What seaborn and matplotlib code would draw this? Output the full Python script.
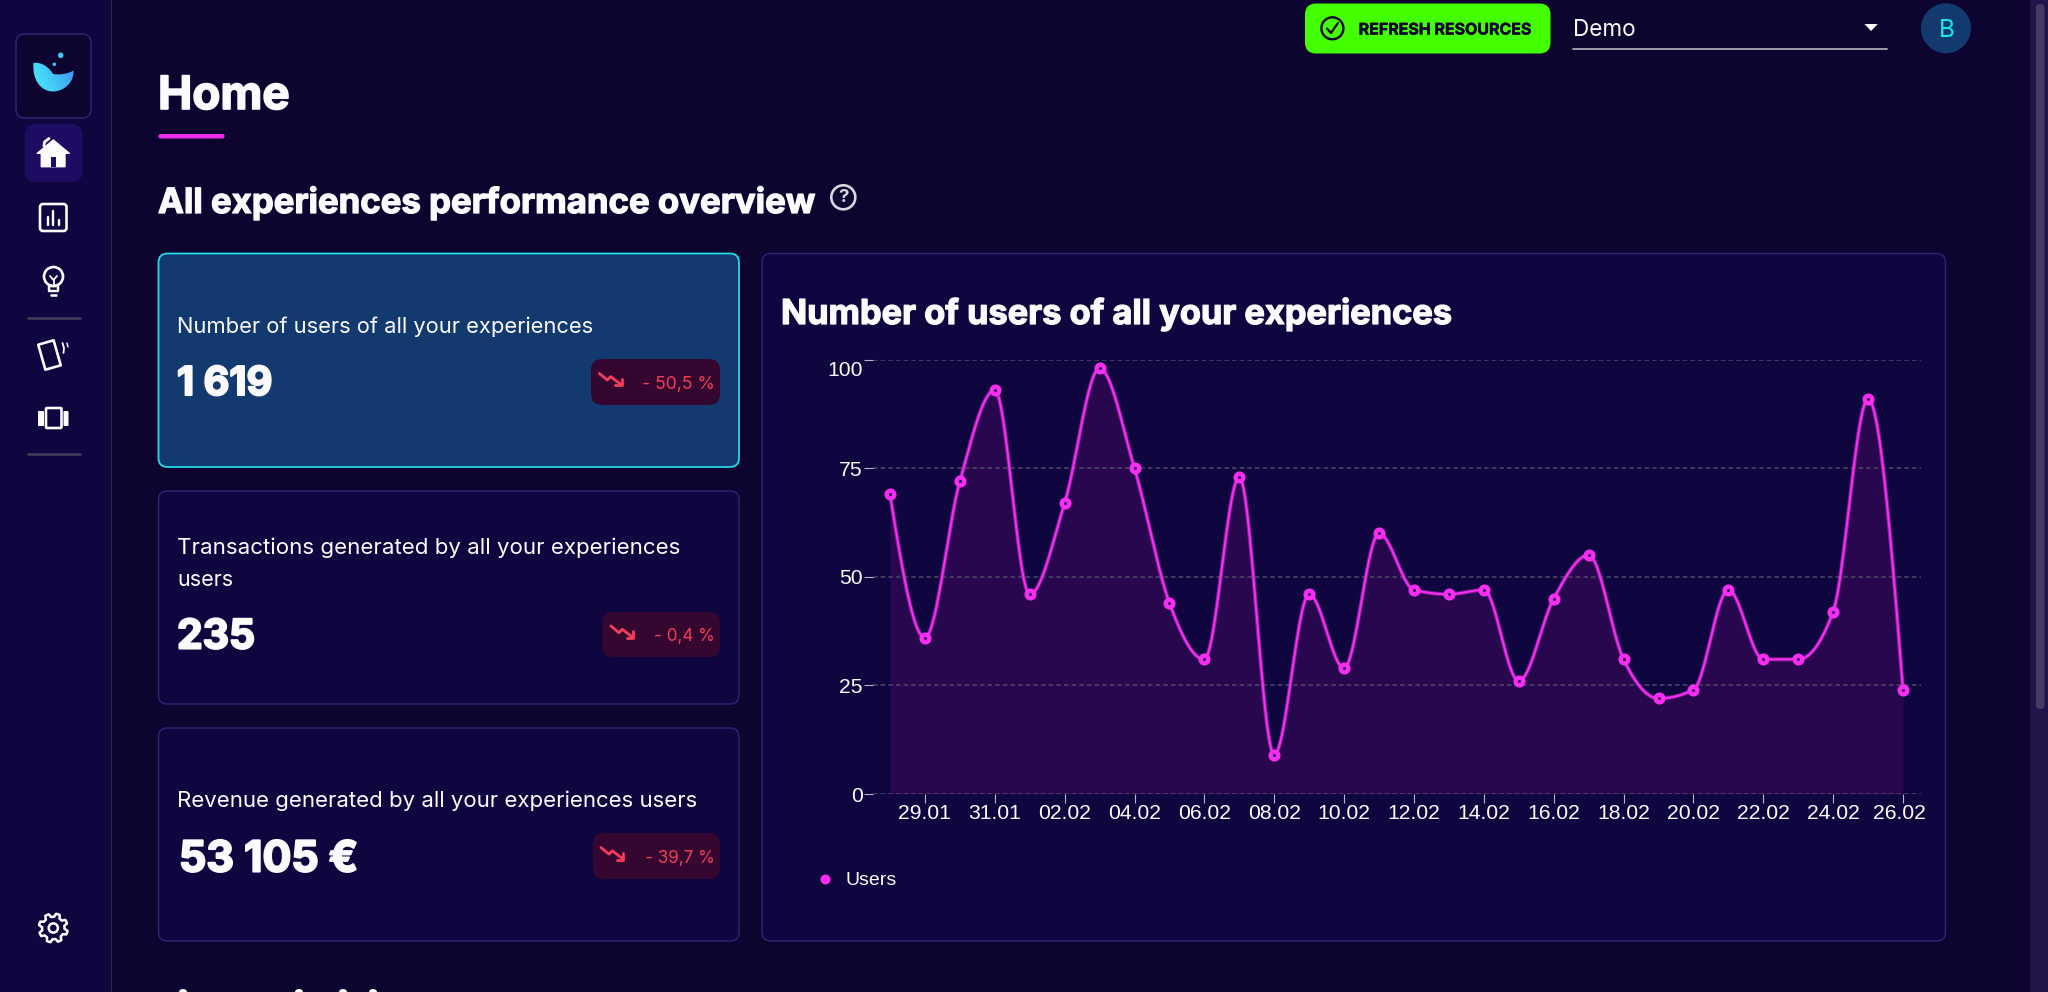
import numpy as np
import pandas as pd
import matplotlib
matplotlib.use('Agg')
import matplotlib.pyplot as plt
import matplotlib.patheffects as pe
import seaborn as sns
from matplotlib.colors import LinearSegmentedColormap
from matplotlib.lines import Line2D
from matplotlib.patches import Circle, Ellipse, FancyBboxPatch, PathPatch, Polygon
from matplotlib.path import Path
from matplotlib.transforms import ScaledTranslation

# chart data
days = ['28.01', '29.01', '30.01', '31.01', '01.02', '02.02', '03.02', '04.02', '05.02', '06.02',
        '07.02', '08.02', '09.02', '10.02', '11.02', '12.02', '13.02', '14.02', '15.02', '16.02',
        '17.02', '18.02', '19.02', '20.02', '21.02', '22.02', '23.02', '24.02', '25.02', '26.02']
users = [69, 36, 72, 93, 46, 67, 98, 75, 44, 31,
         73, 9, 46, 29, 60, 47, 46, 47, 26, 45,
         55, 31, 22, 24, 47, 31, 31, 42, 91, 24]
y_ticks = [0, 25, 50, 75, 100]

# the KPI cards
card_titles = ['Number of users of all your experiences',
               'Transactions generated by all your experiences',
               'Revenue generated by all your experiences users']
card_values = ['1 619', '235', '53 105 €']
card_trends = ['- 50,5 %', '- 0,4 %', '- 39,7 %']

PAGE = '#0d042f'
PANEL = '#10063f'
BORDER = '#30226e'
PINK = '#fb2df2'
RED = '#f23d5c'
BLUE_CARD = '#133a6f'
WHITE = '#fbfafd'
UI_FONT = 'Inter'


def monotone_curve(x, y, steps=24):
    # same smoothing as a monotone-x curve in the browser charts
    x = np.asarray(x, dtype=float)
    y = np.asarray(y, dtype=float)
    h = np.diff(x)
    s = np.diff(y) / h
    t = np.zeros(len(x))
    for i in range(1, len(x) - 1):
        p = (s[i - 1] * h[i] + s[i] * h[i - 1]) / (h[i - 1] + h[i])
        t[i] = (np.sign(s[i - 1]) + np.sign(s[i])) * min(abs(s[i - 1]), abs(s[i]), 0.5 * abs(p))
    t[0] = (3 * s[0] - t[1]) / 2
    t[-1] = (3 * s[-1] - t[-2]) / 2
    xs, ys = [], []
    u = np.linspace(0, 1, steps, endpoint=False)
    for i in range(len(h)):
        a = 2 * u**3 - 3 * u**2 + 1
        b = u**3 - 2 * u**2 + u
        c = -2 * u**3 + 3 * u**2
        d = u**3 - u**2
        xs.append(x[i] + u * h[i])
        ys.append(a * y[i] + b * h[i] * t[i] + c * y[i + 1] + d * h[i] * t[i + 1])
    xs.append([x[-1]])
    ys.append([y[-1]])
    return np.concatenate(xs), np.concatenate(ys)


sns.set_theme(style='dark')
plt.rcParams['font.family'] = [UI_FONT, 'DejaVu Sans']

fig = plt.figure(figsize=(20.48, 9.92), dpi=100, facecolor=PAGE)
renderer = fig.canvas.get_renderer()

# whole page axes in pixels, for the dashboard around the chart
bg = fig.add_axes([0, 0, 1, 1])
bg.set_axis_off()


def box(x0, y0, x1, y1, r, fc, ec='none', lw=1.5, z=1):
    p = FancyBboxPatch((x0 + r, y0 + r), x1 - x0 - 2 * r, y1 - y0 - 2 * r,
                       boxstyle=f'round,pad={r},rounding_size={r}',
                       fc=fc, ec=ec, lw=lw * 0.72, zorder=z)
    bg.add_patch(p)
    return p


def label(x0, x1, y, s, weight='normal', color=WHITE, heavy=0):
    # size is picked so the text spans the same width as in the picture
    t = bg.text(x0, y, s, fontsize=20, fontweight=weight, color=color, ha='left',
                va='center_baseline', zorder=6)
    w = t.get_window_extent(renderer).width
    t.set_fontsize(20 * (x1 - x0) / w)
    if heavy:
        # Poppins is not installed and the bold here is lighter, so thicken it
        t.set_path_effects([pe.withStroke(linewidth=heavy, foreground=color)])
    return t


def stroke(pts, color=WHITE, lw=2.5, z=5):
    xs, ys = zip(*pts)
    bg.plot(xs, ys, color=color, lw=lw * 0.72, solid_capstyle='round', solid_joinstyle='round', zorder=z)


# sidebar
bg.fill_between([0, 110.5], 0, 992, color=PANEL, lw=0, zorder=0.5)
bg.plot([110.5, 110.5], [0, 992], color='#2e2c45', lw=0.8, zorder=0.6)
box(16, 34, 91, 118, 9, PAGE, BORDER)

# logo bowl with its gradient
bowl = Path([(33.5, 63), (41, 61.5), (49, 67), (53, 74), (60, 75), (68, 74), (73.5, 70.5),
             (74.5, 82), (64, 91.5), (53, 91.5), (41, 91.5), (32, 80), (33.5, 63), (33.5, 63)],
            [Path.MOVETO] + [Path.CURVE4] * 12 + [Path.CLOSEPOLY])
bowl_patch = PathPatch(bowl, fc='none', ec='none', zorder=3)
bg.add_patch(bowl_patch)
gx, gy = np.meshgrid(np.linspace(0, 1, 60), np.linspace(0, 1, 60))
grad = LinearSegmentedColormap.from_list('logo', ['#45f0f5', '#44c4f6', '#3a8df4'])
img = bg.imshow(gx * 0.8 + (1 - gy) * 0.25, cmap=grad, extent=(32, 75, 92, 61), aspect='auto', zorder=3)
img.set_clip_path(bowl_patch)
bg.add_patch(Circle((60.7, 55.3), 2.8, fc='#41c3f2', ec='none', zorder=3))
bg.add_patch(Circle((54.3, 64.3), 1.8, fc='#41c3f2', ec='none', zorder=3))

# home icon
box(24.7, 124, 82.4, 182, 11, '#1e0c63')
bg.add_patch(Polygon([(53.3, 140), (69.3, 153.3), (65, 153.3), (65, 166.7), (41.3, 166.7),
                      (41.3, 153.3), (37.3, 153.3)], fc=WHITE, ec=WHITE, lw=1, joinstyle='round', zorder=4))
bg.add_patch(Polygon([(50.7, 157.3), (56, 157.3), (56, 166.7), (50.7, 166.7)], fc='#1e0c63', ec='none', zorder=5))
stroke([(44, 146), (44.5, 142), (49, 138.5)], lw=2.8)

# stats icon
box(40, 204, 66.5, 231, 3, 'none', WHITE, 2.6, z=4)
stroke([(47.5, 217), (47.5, 225)], lw=2.4)
stroke([(53.2, 211), (53.2, 225)], lw=2.4)
stroke([(59, 220), (59, 225)], lw=2.4)

# bulb icon
bg.add_patch(Circle((53.5, 276.5), 9.5, fc='none', ec=WHITE, lw=1.9, zorder=4))
stroke([(49, 286), (49, 291), (58, 291), (58, 286), (49, 286)], lw=2.4)
stroke([(51, 295), (56, 295)], lw=2.6)
stroke([(50, 276), (53.5, 280), (57, 276)], lw=1.8)
stroke([(53.5, 280), (53.5, 286)], lw=1.8)

# separators
for sep_y in [318, 454]:
    stroke([(27.5, sep_y), (79.5, sep_y)], color='#403b5e', lw=2.6, z=2)

# cards icon, a tilted rectangle
tilt = np.radians(-16)
corners = [(-8, -13), (8, -13), (8, 13), (-8, 13)]
tilted = [(49.5 + a * np.cos(tilt) - b * np.sin(tilt), 355 + a * np.sin(tilt) + b * np.cos(tilt)) for a, b in corners]
bg.add_patch(Polygon(tilted, fc='none', ec=WHITE, lw=1.9, joinstyle='round', zorder=4))
stroke([(62.5, 343), (64, 348), (63.5, 353)], lw=1.8)
stroke([(67, 343), (68, 347)], lw=1.4)

# carousel icon
box(46, 408, 61.5, 428, 1, 'none', WHITE, 2.6, z=4)
box(38, 411, 44, 426, 0.8, WHITE, z=4)
box(63.5, 411, 68.5, 426, 0.8, WHITE, z=4)

# gear icon
ang = np.linspace(0, 2 * np.pi, 48, endpoint=False) + np.pi / 16
rad = np.array(([14.5, 14.5, 14.5, 11.2, 11.2, 11.2]) * 8)
gear = list(zip(53.3 + rad * np.cos(ang), 928 + rad * np.sin(ang)))
bg.add_patch(Polygon(gear, fc='none', ec=WHITE, lw=1.8, joinstyle='round', zorder=4))
bg.add_patch(Circle((53.3, 928), 4.6, fc='none', ec=WHITE, lw=1.8, zorder=4))

# page headings
label(158, 290, 92, 'Home', weight='bold', heavy=1.2)
box(158.5, 134, 224.5, 138.5, 2, '#ee2de8')
label(158, 816, 200, 'All experiences performance overview', weight='bold', heavy=0.9)
bg.add_patch(Circle((843.3, 197.3), 12, fc='none', ec='#d8d6de', lw=1.9, zorder=4))
bg.text(843.3, 197.8, '?', fontsize=13.5, fontweight='bold', color='#d8d6de', ha='center', va='center', zorder=5)

# KPI cards
box(158.5, 253.5, 739, 467, 9, BLUE_CARD, '#24dbe6', 1.8)
box(158.5, 491, 739, 704, 9, PANEL, BORDER)
box(158.5, 728, 739, 941, 9, PANEL, BORDER)

label(177, 593, 324.5, card_titles[0])
label(177, 678.6, 546.2, card_titles[1])
label(177, 233, 578, 'users')
label(177, 696, 799, card_titles[2])

label(177, 272.4, 380.5, card_values[0], weight='bold', heavy=1.5)
label(177, 255, 633.5, card_values[1], weight='bold', heavy=1.5)
label(179, 358, 855.5, card_values[2], weight='bold', heavy=1.5)

badges = [(591, 359, 405, 599.3, 373.3, 642), (602.5, 612, 657, 611, 626, 654), (593, 833, 879, 601, 847.5, 645)]
for (bx, by0, by1, ix, iy, tx), trend in zip(badges, card_trends):
    box(bx, by0, 720, by1, 11, '#35062f')
    stroke([(ix, iy), (ix + 8, iy + 6.7), (ix + 11.3, iy + 3.3), (ix + 22.3, iy + 11.7)], color=RED, lw=2.8)
    stroke([(ix + 22.3, iy + 5.3), (ix + 22.3, iy + 12), (ix + 15.7, iy + 12)], color=RED, lw=2.8)
    label(tx, 715, (by0 + by1) / 2 + 0.5, trend, color=RED)

# chart card
box(762, 253.5, 1945.5, 941, 9, PANEL, BORDER)
label(781, 1453.6, 311, 'Number of users of all your experiences', weight='bold', heavy=0.9)

# top bar
box(1305, 3.5, 1550.5, 53.5, 11, '#44ff00')
bg.add_patch(Circle((1332.4, 28.3), 11, fc='none', ec=PAGE, lw=1.7, zorder=4))
stroke([(1327, 28.5), (1331, 33), (1338, 23)], color=PAGE, lw=2.2)
label(1358.7, 1531.4, 28.5, 'REFRESH RESOURCES', weight='bold', color=PAGE, heavy=0.3)
label(1573.4, 1636, 27.7, 'Demo')
bg.add_patch(Polygon([(1864.4, 24), (1877.8, 24), (1871.1, 31)], fc=WHITE, ec='none', zorder=4))
stroke([(1573.4, 49), (1887, 49)], color='#aaa6b5', lw=1.8, z=2)
bg.add_patch(Circle((1946, 28.3), 25, fc=BLUE_CARD, ec='none', zorder=2))
label(1938.5, 1954.5, 28, 'B', color='#1ee6f0')

# scrollbar
bg.fill_between([2030, 2048], 0, 992, color='#211448', lw=0, zorder=0.5)
box(2036, 4, 2044.5, 709, 4, '#423a63')

# tops of the next heading, cut off by the bottom of the screen
for mark_x in [183, 299, 343, 373]:
    bg.add_patch(Ellipse((mark_x, 992), 8, 6, fc=WHITE, ec='none', zorder=4))

bg.set_xlim(0, 2048)
bg.set_ylim(992, 0)

# the chart itself
left, right, top, bottom = 872.5, 1920.5, 359.7, 794
ax = fig.add_axes([left / 2048, 1 - bottom / 992, (right - left) / 2048, (bottom - top) / 992])
ax.set_facecolor('none')

pos = np.arange(len(days))
xs, ys = monotone_curve(pos, users)
curve = pd.DataFrame({'day': xs, 'users': ys})
points = pd.DataFrame({'day': pos, 'users': users})

ax.fill_between(xs, 0, ys, color='#28074e', lw=0, zorder=1)
sns.lineplot(data=curve, x='day', y='users', ax=ax, color='#a92bb8', linewidth=3.0, alpha=0.65,
             estimator=None, sort=False, errorbar=None)
sns.lineplot(data=curve, x='day', y='users', ax=ax, color=PINK, linewidth=1.5,
             estimator=None, sort=False, errorbar=None)
sns.scatterplot(data=points, x='day', y='users', ax=ax, s=30, color='#2a0a55', edgecolor=PINK,
                linewidth=3.2, zorder=4, clip_on=False)

ax.set_xlim(-0.5, 29.5)
ax.set_ylim(0, 100)
ax.set_xlabel('')
ax.set_ylabel('')
ax.set_xticks(pos[1::2], days[1::2])
ax.set_yticks(y_ticks)
ax.set_axisbelow('line')
ax.grid(True, axis='y', color='#4d4866', linewidth=1.1, linestyle=(0, (3, 2)))
ax.grid(False, axis='x')
for side in ax.spines.values():
    side.set_visible(False)
ax.tick_params(axis='both', which='major', bottom=True, left=True, length=6.5, width=0.8, color='#b9b6c6',
               labelcolor=WHITE, labelsize=15.2, pad=0.6)
for tick in ax.get_xticklabels() + ax.get_yticklabels():
    tick.set_family(['Liberation Sans', 'DejaVu Sans'])

# top y label sits under its tick, last x label is pushed back inside
top_label = ax.get_yticklabels()[-1]
top_label.set_transform(top_label.get_transform() + ScaledTranslation(0, -9 / 100, fig.dpi_scale_trans))
last_label = ax.get_xticklabels()[-1]
last_label.set_transform(last_label.get_transform() + ScaledTranslation(-4 / 100, 0, fig.dpi_scale_trans))

handle = Line2D([], [], marker='o', linestyle='none', markersize=7.2, color=PINK, markeredgewidth=0)
ax.legend([handle], ['Users'], loc='center left', bbox_to_anchor=(815.6 / 2048, 1 - 880.5 / 992),
          bbox_transform=fig.transFigure, frameon=False, borderpad=0, borderaxespad=0, handlelength=1,
          handletextpad=0.52, labelcolor=WHITE, prop={'family': 'Liberation Sans', 'size': 14})

fig.savefig('out.png', dpi=100, facecolor=PAGE)
plt.close(fig)
